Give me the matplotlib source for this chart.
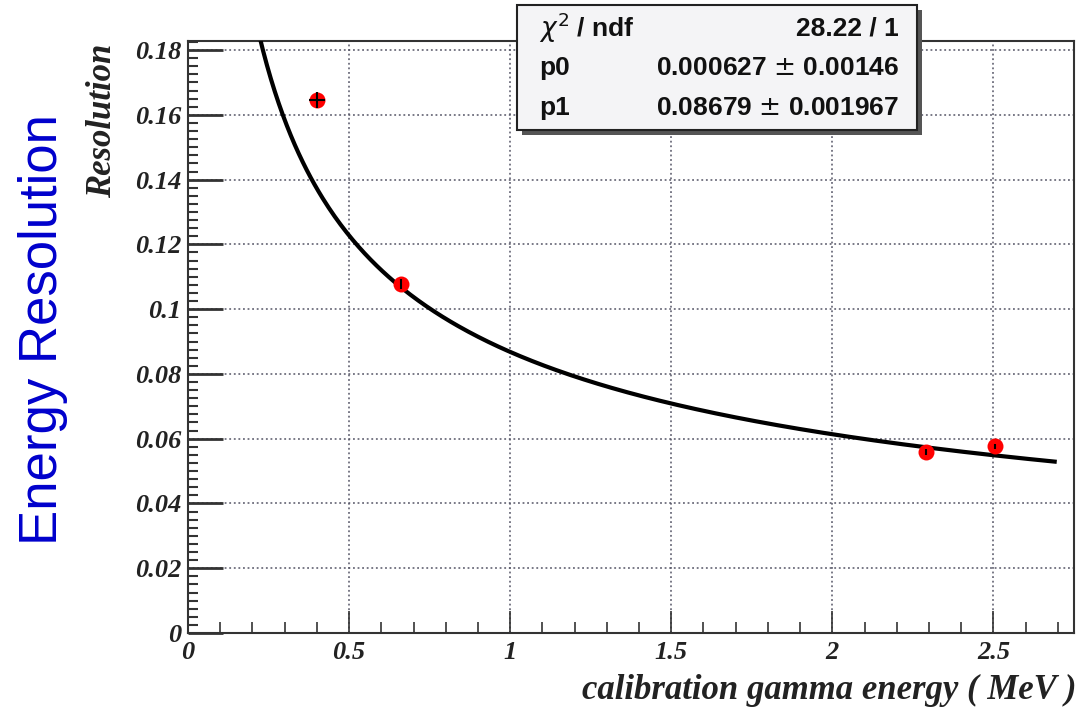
import numpy as np
import matplotlib
matplotlib.use("Agg")
import matplotlib.pyplot as plt
from matplotlib.ticker import MultipleLocator, FixedLocator
from matplotlib.patches import Rectangle

# ---- data ----
energy = [0.40, 0.662, 2.29, 2.505]          # MeV
resolution = [0.1646, 0.1077, 0.0559, 0.0577]
energy_err = [0.025, 0.0, 0.0, 0.0]
resolution_err = [0.0025, 0.0015, 0.0008, 0.0008]

# fit parameters (from the stats box)
p0 = 0.000627
p1 = 0.08679
fit_range = [0.22, 2.69]
stats_labels = [r"$\chi^{2}$ / ndf", "p0", "p1"]
stats_values = ["28.22 / 1", "0.000627 $\\pm$ 0.00146", "0.08679 $\\pm$ 0.001967"]

x_ticks = [0, 0.5, 1, 1.5, 2, 2.5]
x_tick_labels = ["0", "0.5", "1", "1.5", "2", "2.5"]
y_ticks = [0, 0.02, 0.04, 0.06, 0.08, 0.1, 0.12, 0.14, 0.16, 0.18]
y_tick_labels = ["0", "0.02", "0.04", "0.06", "0.08", "0.1", "0.12", "0.14", "0.16", "0.18"]

W, H = 1081, 707
fig = plt.figure(figsize=(W / 100, H / 100), dpi=100)
fig.patch.set_facecolor("white")

ax = fig.add_axes([188 / W, 1 - 633 / H, (1074 - 188) / W, (633 - 41) / H])
ax.set_xlim(0, 2.75)
ax.set_ylim(0, 0.1828)

serif = dict(family="Liberation Serif", weight="bold", style="italic")

# grid
ax.grid(True, which="major", linestyle=(0, (1.2, 1.8)), color="#555566", linewidth=1.1)
ax.set_axisbelow(True)

# fit curve
xf = np.linspace(fit_range[0], fit_range[1], 400)
yf = np.sqrt(p0 ** 2 + p1 ** 2 / xf)
ax.plot(xf, yf, color="black", linewidth=3.0, zorder=3)

# points
ax.plot(energy, resolution, "o", color="red", markersize=11.5, markeredgewidth=0, zorder=4)
ax.errorbar(energy, resolution, xerr=energy_err, yerr=resolution_err, fmt="none",
            ecolor="black", elinewidth=1.5, capsize=0, zorder=5)

# ticks
ax.xaxis.set_major_locator(FixedLocator(x_ticks))
ax.xaxis.set_minor_locator(MultipleLocator(0.1))
ax.yaxis.set_major_locator(FixedLocator(y_ticks))
ax.yaxis.set_minor_locator(MultipleLocator(0.0025))
ax.set_xticklabels(x_tick_labels)
ax.set_yticklabels(y_tick_labels)
ax.tick_params(axis="both", which="both", direction="in", top=False, right=False, color="#333333")
ax.tick_params(axis="x", which="major", length=16, width=1.2, pad=6)
ax.tick_params(axis="x", which="minor", length=8, width=1.2)
ax.tick_params(axis="y", which="major", length=25, width=2.0, pad=5)
ax.tick_params(axis="y", which="minor", length=7, width=1.5)
for lab in ax.get_xticklabels() + ax.get_yticklabels():
    lab.set_fontfamily("Liberation Serif")
    lab.set_fontweight("bold")
    lab.set_fontstyle("italic")
    lab.set_fontsize(19)
    lab.set_color("#222222")

for sp in ax.spines.values():
    sp.set_linewidth(1.5)
    sp.set_color("#333333")

# axis titles
fig.text(1076 / W, 1 - 690 / H, "calibration gamma energy ( MeV )", ha="right", va="center",
         fontsize=25, color="#222222", **serif)
fig.text(103 / W, 1 - 44 / H, "Resolution", ha="center", va="top", rotation=90,
         fontsize=25, color="#222222", **serif)
fig.text(43 / W, 1 - 330 / H, "Energy Resolution", ha="center", va="center", rotation=90,
         fontsize=38, color="#0000cc", family="Liberation Sans")

# stats box
bx0, by0, bx1, by1 = 517, 5, 917, 130
shadow = Rectangle(((bx0 + 5) / W, 1 - (by1 + 5) / H), (bx1 - bx0) / W, (by1 - by0) / H,
                   transform=fig.transFigure, facecolor="#555555", edgecolor="none", zorder=9)
fig.patches.append(shadow)
box = Rectangle((bx0 / W, 1 - by1 / H), (bx1 - bx0) / W, (by1 - by0) / H,
                transform=fig.transFigure, facecolor="#f4f4f6", edgecolor="#222222",
                linewidth=1.5, zorder=10)
fig.patches.append(box)
row_y = [28, 68, 108]
for lab, val, ry in zip(stats_labels, stats_values, row_y):
    fig.text((bx0 + 22) / W, 1 - ry / H, lab, ha="left", va="center", fontsize=19,
             family="Liberation Sans", weight="bold", color="#111111", zorder=11)
    fig.text((bx1 - 18) / W, 1 - ry / H, val, ha="right", va="center", fontsize=19,
             family="Liberation Sans", weight="bold", color="#111111", zorder=11)

fig.savefig("out.png", dpi=100)
